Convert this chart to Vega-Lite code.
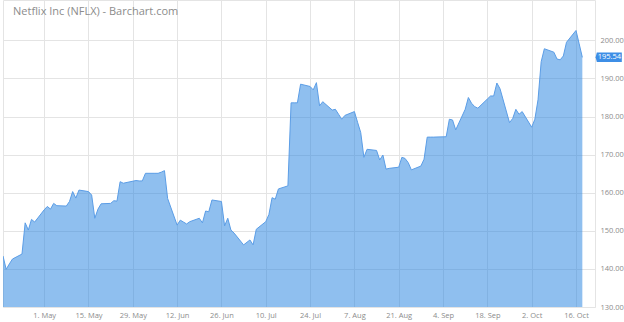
{
  "$schema": "https://vega.github.io/schema/vega-lite/v6.json",
  "width": 592,
  "height": 307,
  "autosize": {"type": "none"},
  "padding": {"left": 3, "top": 0, "right": 29, "bottom": 15},
  "background": "white",
  "title": {"text": "Netflix Inc (NFLX) - Barchart.com", "anchor": "start", "frame": "group", "offset": -17, "dx": 10, "font": "Open Sans", "fontSize": 11, "fontWeight": "normal", "color": "#8c8c8c"},
  "config": {
    "view": {"stroke": "#e4e4e4"},
    "axis": {"gridColor": "#e4e4e4", "labelFont": "Open Sans", "labelFontSize": 7.5, "labelColor": "#8c8c8c", "ticks": false, "domain": false}
  },
  "data": {"values": [
    {"date": "2017-04-18", "close": 143.4}, {"date": "2017-04-19", "close": 139.9}, {"date": "2017-04-20", "close": 141.3}, {"date": "2017-04-21", "close": 142.6},
    {"date": "2017-04-24", "close": 143.9}, {"date": "2017-04-25", "close": 152.1}, {"date": "2017-04-26", "close": 150.2}, {"date": "2017-04-27", "close": 153.0}, {"date": "2017-04-28", "close": 152.3},
    {"date": "2017-05-01", "close": 155.5}, {"date": "2017-05-02", "close": 156.4}, {"date": "2017-05-03", "close": 155.7}, {"date": "2017-05-04", "close": 157.2}, {"date": "2017-05-05", "close": 156.6},
    {"date": "2017-05-08", "close": 156.5}, {"date": "2017-05-09", "close": 157.7}, {"date": "2017-05-10", "close": 160.3}, {"date": "2017-05-11", "close": 158.6}, {"date": "2017-05-12", "close": 160.7},
    {"date": "2017-05-15", "close": 160.3}, {"date": "2017-05-16", "close": 159.4}, {"date": "2017-05-17", "close": 153.3}, {"date": "2017-05-18", "close": 155.7}, {"date": "2017-05-19", "close": 157.1},
    {"date": "2017-05-22", "close": 157.2}, {"date": "2017-05-23", "close": 157.9}, {"date": "2017-05-24", "close": 157.8}, {"date": "2017-05-25", "close": 162.9}, {"date": "2017-05-26", "close": 162.5},
    {"date": "2017-05-30", "close": 163.2}, {"date": "2017-05-31", "close": 163.1}, {"date": "2017-06-01", "close": 163.1}, {"date": "2017-06-02", "close": 165.1},
    {"date": "2017-06-05", "close": 165.1}, {"date": "2017-06-06", "close": 165.1}, {"date": "2017-06-07", "close": 165.4}, {"date": "2017-06-08", "close": 165.8}, {"date": "2017-06-09", "close": 158.5},
    {"date": "2017-06-12", "close": 151.5}, {"date": "2017-06-13", "close": 152.8}, {"date": "2017-06-14", "close": 152.3}, {"date": "2017-06-15", "close": 151.8}, {"date": "2017-06-16", "close": 152.4},
    {"date": "2017-06-19", "close": 153.3}, {"date": "2017-06-20", "close": 152.1}, {"date": "2017-06-21", "close": 155.2}, {"date": "2017-06-22", "close": 155.0}, {"date": "2017-06-23", "close": 158.1},
    {"date": "2017-06-26", "close": 157.7}, {"date": "2017-06-27", "close": 151.3}, {"date": "2017-06-28", "close": 153.3}, {"date": "2017-06-29", "close": 150.2}, {"date": "2017-06-30", "close": 149.4},
    {"date": "2017-07-03", "close": 146.3}, {"date": "2017-07-05", "close": 147.6}, {"date": "2017-07-06", "close": 146.3}, {"date": "2017-07-07", "close": 150.4},
    {"date": "2017-07-10", "close": 152.4}, {"date": "2017-07-11", "close": 154.3}, {"date": "2017-07-12", "close": 158.7}, {"date": "2017-07-13", "close": 158.3}, {"date": "2017-07-14", "close": 161.0},
    {"date": "2017-07-17", "close": 161.8}, {"date": "2017-07-18", "close": 183.6}, {"date": "2017-07-19", "close": 183.6}, {"date": "2017-07-20", "close": 183.6}, {"date": "2017-07-21", "close": 188.5},
    {"date": "2017-07-24", "close": 187.9}, {"date": "2017-07-25", "close": 187.0}, {"date": "2017-07-26", "close": 188.9}, {"date": "2017-07-27", "close": 182.8}, {"date": "2017-07-28", "close": 183.9},
    {"date": "2017-07-31", "close": 181.7}, {"date": "2017-08-01", "close": 181.9}, {"date": "2017-08-02", "close": 180.6}, {"date": "2017-08-03", "close": 179.3}, {"date": "2017-08-04", "close": 180.3},
    {"date": "2017-08-07", "close": 181.3}, {"date": "2017-08-08", "close": 178.5}, {"date": "2017-08-09", "close": 175.8}, {"date": "2017-08-10", "close": 169.3}, {"date": "2017-08-11", "close": 171.4},
    {"date": "2017-08-14", "close": 171.1}, {"date": "2017-08-15", "close": 168.6}, {"date": "2017-08-16", "close": 169.9}, {"date": "2017-08-17", "close": 166.2}, {"date": "2017-08-18", "close": 166.4},
    {"date": "2017-08-21", "close": 166.7}, {"date": "2017-08-22", "close": 169.3}, {"date": "2017-08-23", "close": 169.0}, {"date": "2017-08-24", "close": 167.9}, {"date": "2017-08-25", "close": 166.0},
    {"date": "2017-08-28", "close": 167.0}, {"date": "2017-08-29", "close": 168.8}, {"date": "2017-08-30", "close": 174.6}, {"date": "2017-08-31", "close": 174.6}, {"date": "2017-09-01", "close": 174.6},
    {"date": "2017-09-05", "close": 174.7}, {"date": "2017-09-06", "close": 179.3}, {"date": "2017-09-07", "close": 179.1}, {"date": "2017-09-08", "close": 176.5},
    {"date": "2017-09-11", "close": 181.9}, {"date": "2017-09-12", "close": 185.0}, {"date": "2017-09-13", "close": 183.5}, {"date": "2017-09-14", "close": 182.6}, {"date": "2017-09-15", "close": 182.2},
    {"date": "2017-09-18", "close": 184.6}, {"date": "2017-09-19", "close": 185.4}, {"date": "2017-09-20", "close": 185.4}, {"date": "2017-09-21", "close": 188.8}, {"date": "2017-09-22", "close": 187.3},
    {"date": "2017-09-25", "close": 178.4}, {"date": "2017-09-26", "close": 179.5}, {"date": "2017-09-27", "close": 181.9}, {"date": "2017-09-28", "close": 180.6}, {"date": "2017-09-29", "close": 181.3},
    {"date": "2017-10-02", "close": 177.2}, {"date": "2017-10-03", "close": 179.3}, {"date": "2017-10-04", "close": 184.4}, {"date": "2017-10-05", "close": 194.4}, {"date": "2017-10-06", "close": 197.8},
    {"date": "2017-10-09", "close": 196.9}, {"date": "2017-10-10", "close": 195.1}, {"date": "2017-10-11", "close": 194.9}, {"date": "2017-10-12", "close": 195.9}, {"date": "2017-10-13", "close": 199.5},
    {"date": "2017-10-16", "close": 202.6}, {"date": "2017-10-17", "close": 199.1}, {"date": "2017-10-18", "close": 195.54}
  ]},
  "encoding": {
    "x": {"field": "date", "type": "temporal",
          "scale": {"type": "utc", "domain": [{"year": 2017, "month": 4, "date": 18, "utc": true}, {"year": 2017, "month": 10, "date": 22, "utc": true}]},
          "axis": {"title": null, "format": "%-d. %b", "labelPadding": 4, "grid": true,
                   "values": [
                     {"year": 2017, "month": 5, "date": 1, "utc": true}, {"year": 2017, "month": 5, "date": 15, "utc": true}, {"year": 2017, "month": 5, "date": 29, "utc": true},
                     {"year": 2017, "month": 6, "date": 12, "utc": true}, {"year": 2017, "month": 6, "date": 26, "utc": true}, {"year": 2017, "month": 7, "date": 10, "utc": true},
                     {"year": 2017, "month": 7, "date": 24, "utc": true}, {"year": 2017, "month": 8, "date": 7, "utc": true}, {"year": 2017, "month": 8, "date": 21, "utc": true},
                     {"year": 2017, "month": 9, "date": 4, "utc": true}, {"year": 2017, "month": 9, "date": 18, "utc": true}, {"year": 2017, "month": 10, "date": 2, "utc": true},
                     {"year": 2017, "month": 10, "date": 16, "utc": true}]}},
    "y": {"field": "close", "type": "quantitative",
          "scale": {"domain": [130, 210.6], "nice": false, "zero": false},
          "axis": {"title": null, "orient": "right", "grid": true, "values": [130, 140, 150, 160, 170, 180, 190, 200], "format": ".2f", "labelPadding": 5}}
  },
  "layer": [
    {
      "mark": {"type": "area", "color": "#1f7fe0", "fillOpacity": 0.5, "clip": true, "line": {"color": "#5b9de6", "strokeWidth": 1}}
    },
    {
      "transform": [{"filter": "datum.close == 195.54"}],
      "mark": {"type": "point", "shape": "M -1.1 0 L -1 -0.38 L 1 -0.38 L 1 0.38 L -1 0.38 Z", "size": 625, "filled": true, "color": "#3d8ee6", "opacity": 1, "xOffset": 27}
    },
    {
      "transform": [{"filter": "datum.close == 195.54"}],
      "mark": {"type": "text", "color": "white", "font": "Open Sans", "fontSize": 7.5, "dx": 27, "align": "center", "baseline": "middle"},
      "encoding": {
        "text": {"field": "close", "type": "quantitative", "format": ".2f"}
      }
    }
  ]
}
